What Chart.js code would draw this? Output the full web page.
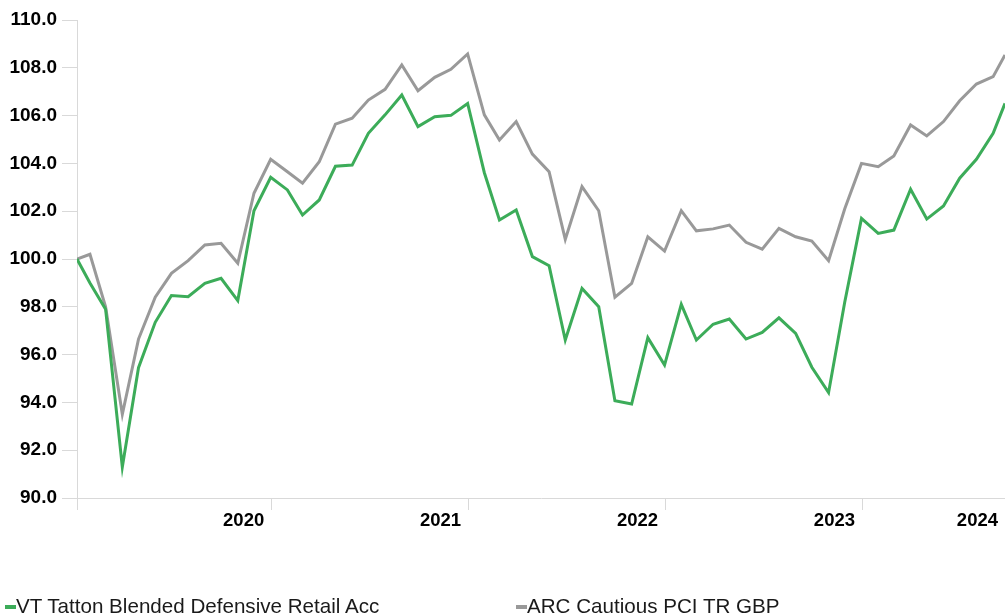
<!DOCTYPE html>
<html>
<head>
<meta charset="utf-8">
<script src="https://cdn.jsdelivr.net/npm/chart.js@4.4.1/dist/chart.umd.min.js"></script>
<style>
  html, body { margin: 0; padding: 0; background: #ffffff; }
  #wrap { position: relative; width: 1005px; height: 616px; overflow: hidden; background: #ffffff; }
  #chart { position: absolute; left: 0; top: 0; }
  .lg-item { position: absolute; top: 596px; height: 20px; line-height: 20px; white-space: nowrap;
             font-family: "Liberation Sans", Arial, sans-serif; font-size: 20.6px; color: #1a1a1a; }
  .lg-mark { position: absolute; left: 0; top: 9px; width: 11px; height: 4px; }
  .lg-text { position: absolute; left: 11px; top: 0; }
</style>
</head>
<body>
<div id="wrap">
  <canvas id="chart" width="1005" height="616"></canvas>
  <div id="legend"></div>
</div>
<script>
// ---- data ----
const dates = [
  '2020-01-07','2020-01-31','2020-02-29','2020-03-31','2020-04-30','2020-05-31','2020-06-30',
  '2020-07-31','2020-08-31','2020-09-30','2020-10-31','2020-11-30','2020-12-31',
  '2021-01-31','2021-02-28','2021-03-31','2021-04-30','2021-05-31','2021-06-30',
  '2021-07-31','2021-08-31','2021-09-30','2021-10-31','2021-11-30','2021-12-31',
  '2022-01-31','2022-02-28','2022-03-31','2022-04-30','2022-05-31','2022-06-30',
  '2022-07-31','2022-08-31','2022-09-30','2022-10-31','2022-11-30','2022-12-31',
  '2023-01-31','2023-02-28','2023-03-31','2023-04-30','2023-05-31','2023-06-30',
  '2023-07-31','2023-08-31','2023-09-30','2023-10-31','2023-11-30','2023-12-31',
  '2024-01-31','2024-02-29','2024-03-31','2024-04-30','2024-05-31','2024-06-30',
  '2024-07-31','2024-08-31','2024-09-22'
];

const tattonValues = [
  100.0, 99.0, 97.9, 91.3, 95.45, 97.35, 98.47, 98.42, 98.98, 99.19, 98.26, 102.02, 103.42,
  102.89, 101.84, 102.47, 103.88, 103.93, 105.26, 106.03, 106.86, 105.54, 105.95, 106.01, 106.51,
  103.61, 101.63, 102.05, 100.1, 99.72, 96.61, 98.77, 98.0, 94.07, 93.93, 96.71, 95.56,
  98.1, 96.61, 97.27, 97.49, 96.65, 96.93, 97.54, 96.89, 95.47, 94.41, 98.2, 101.7,
  101.07, 101.21, 102.92, 101.67, 102.22, 103.38, 104.17, 105.26, 106.51
];

const arcValues = [
  100.0, 100.2, 98.0, 93.5, 96.65, 98.4, 99.4, 99.93, 100.59, 100.66, 99.82, 102.75, 104.17,
  103.65, 103.17, 104.07, 105.64, 105.89, 106.65, 107.1, 108.12, 107.04, 107.6, 107.94, 108.58,
  106.03, 104.98, 105.75, 104.39, 103.65, 100.82, 103.03, 102.02, 98.4, 98.98, 100.93, 100.33,
  102.02, 101.18, 101.26, 101.42, 100.7, 100.41, 101.28, 100.93, 100.75, 99.93, 102.1, 104.0,
  103.86, 104.31, 105.61, 105.15, 105.75, 106.62, 107.32, 107.63, 108.54
];

const seriesNames = ['VT Tatton Blended Defensive Retail Acc', 'ARC Cautious PCI TR GBP'];
const seriesColors = ['#3cac59', '#999999'];

const yearTickDates = ['2021-01-01', '2022-01-01', '2023-01-01', '2024-01-01'];
const yearLabels = ['2020', '2021', '2022', '2023', '2024'];

const yMin = 90, yMax = 110, yStep = 2;

// ---- helpers ----
const toDay = s => Date.UTC(+s.slice(0, 4), +s.slice(5, 7) - 1, +s.slice(8, 10)) / 86400000;
const xVals = dates.map(toDay);
const xMin = xVals[0], xMax = xVals[xVals.length - 1];
const pts = vals => vals.map((v, i) => ({ x: xVals[i], y: v }));

const AXIS_GREY = '#d9d9d9';
const FONT = '"Liberation Sans", Arial, sans-serif';

new Chart(document.getElementById('chart'), {
  type: 'line',
  data: {
    datasets: [
      { label: seriesNames[0], data: pts(tattonValues), borderColor: seriesColors[0], backgroundColor: seriesColors[0],
        borderWidth: 3, pointRadius: 0, tension: 0, borderJoinStyle: 'miter', fill: false },
      { label: seriesNames[1], data: pts(arcValues), borderColor: seriesColors[1], backgroundColor: seriesColors[1],
        borderWidth: 3, pointRadius: 0, tension: 0, borderJoinStyle: 'miter', fill: false }
    ]
  },
  options: {
    responsive: false,
    animation: false,
    devicePixelRatio: 1,
    layout: { padding: { left: 0, right: 0, top: 20, bottom: 0 } },
    plugins: { legend: { display: false }, tooltip: { enabled: false } },
    scales: {
      x: {
        type: 'linear',
        min: xMin,
        max: xMax,
        afterBuildTicks: s => {
          s.ticks = [{ value: xMin }].concat(yearTickDates.map(d => ({ value: toDay(d) }))).concat([{ value: xMax }]);
        },
        afterFit: s => { s.height = 118; },
        ticks: {
          autoSkip: false, maxRotation: 0, minRotation: 0,
          align: 'end', labelOffset: -7, padding: 0,
          color: '#000000',
          font: { family: FONT, size: 18.5, weight: 'bold' },
          callback: (v, i) => (i === 0 ? '' : yearLabels[i - 1])
        },
        grid: {
          drawOnChartArea: false, drawTicks: true, tickLength: 12, lineWidth: 1,
          color: ctx => (ctx.index === yearTickDates.length + 1 ? 'rgba(0,0,0,0)' : AXIS_GREY)
        },
        border: { display: true, color: AXIS_GREY, width: 1 }
      },
      y: {
        min: yMin, max: yMax,
        afterFit: s => { s.width = 77; },
        ticks: {
          stepSize: yStep, padding: 5, color: '#000000',
          font: { family: FONT, size: 19, weight: 'bold' },
          callback: v => Number(v).toFixed(1)
        },
        grid: { drawOnChartArea: false, drawTicks: true, tickLength: 15, color: AXIS_GREY, lineWidth: 1 },
        border: { display: true, color: AXIS_GREY, width: 1 }
      }
    }
  }
});

// ---- HTML legend ----
const legendLefts = [5, 516];
const legend = document.getElementById('legend');
seriesNames.forEach((name, i) => {
  const item = document.createElement('div');
  item.className = 'lg-item';
  item.style.left = legendLefts[i] + 'px';
  const mark = document.createElement('span');
  mark.className = 'lg-mark';
  mark.style.background = seriesColors[i];
  const txt = document.createElement('span');
  txt.className = 'lg-text';
  txt.textContent = name;
  item.appendChild(mark);
  item.appendChild(txt);
  legend.appendChild(item);
});
</script>
</body>
</html>
